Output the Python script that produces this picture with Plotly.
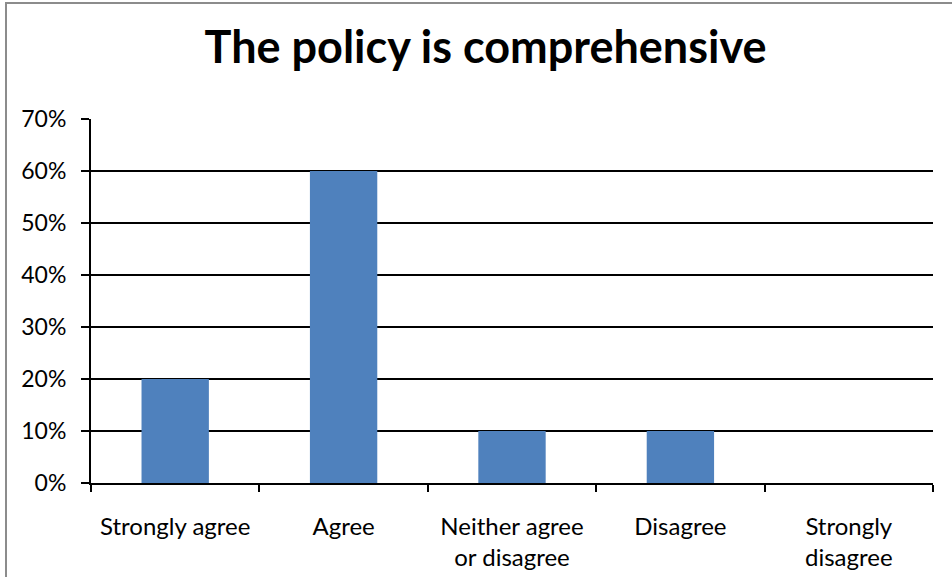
import plotly.graph_objects as go

categories = ["Strongly agree", "Agree", "Neither agree<br>or disagree", "Disagree", "Strongly<br>disagree"]
shares = [0.20, 0.60, 0.10, 0.10, 0.0]
y_ticks = [0, 0.1, 0.2, 0.3, 0.4, 0.5, 0.6, 0.7]
y_labels = ["0%", "10%", "20%", "30%", "40%", "50%", "60%", "70%"]

FONT = "Lato, Calibri, sans-serif"

fig = go.Figure(
    go.Bar(
        x=categories,
        y=shares,
        marker=dict(color="#4F81BD", line=dict(width=0)),
        hoverinfo="x+y",
    )
)

fig.update_layout(
    width=952,
    height=577,
    margin=dict(l=91, r=19, t=119, b=94),
    paper_bgcolor="white",
    plot_bgcolor="white",
    bargap=0.6,
    showlegend=False,
    title=dict(
        text="<b>The policy is comprehensive</b>",
        font=dict(family=FONT, size=45, color="black"),
        x=0.51,
        xanchor="center",
        y=0.918,
        yanchor="middle",
    ),
    font=dict(family=FONT, size=23, color="black"),
)

fig.update_yaxes(
    range=[0, 0.7],
    tickvals=y_ticks,
    ticktext=y_labels,
    showgrid=True,
    gridcolor="black",
    gridwidth=2,
    showline=True,
    linecolor="black",
    linewidth=2,
    ticks="outside",
    ticklen=8,
    tickwidth=2,
    tickcolor="black",
    zeroline=False,
    ticklabelstandoff=10,
    automargin=False,
    tickfont=dict(size=23),
)

fig.update_xaxes(
    showline=True,
    linecolor="black",
    linewidth=2,
    ticks="outside",
    tickson="boundaries",
    ticklen=7,
    tickwidth=2,
    tickcolor="black",
    ticklabelstandoff=21,
    automargin=False,
    tickfont=dict(size=24),
)

# Outer chart border
fig.add_shape(
    type="rect",
    xref="paper",
    yref="paper",
    x0=(6 - 91) / 842,
    x1=1.2,
    y0=-0.5,
    y1=(483 - 3) / 364,
    line=dict(color="#8C8C8C", width=2),
    fillcolor="rgba(0,0,0,0)",
    layer="below",
)

fig.write_html("out.html")
